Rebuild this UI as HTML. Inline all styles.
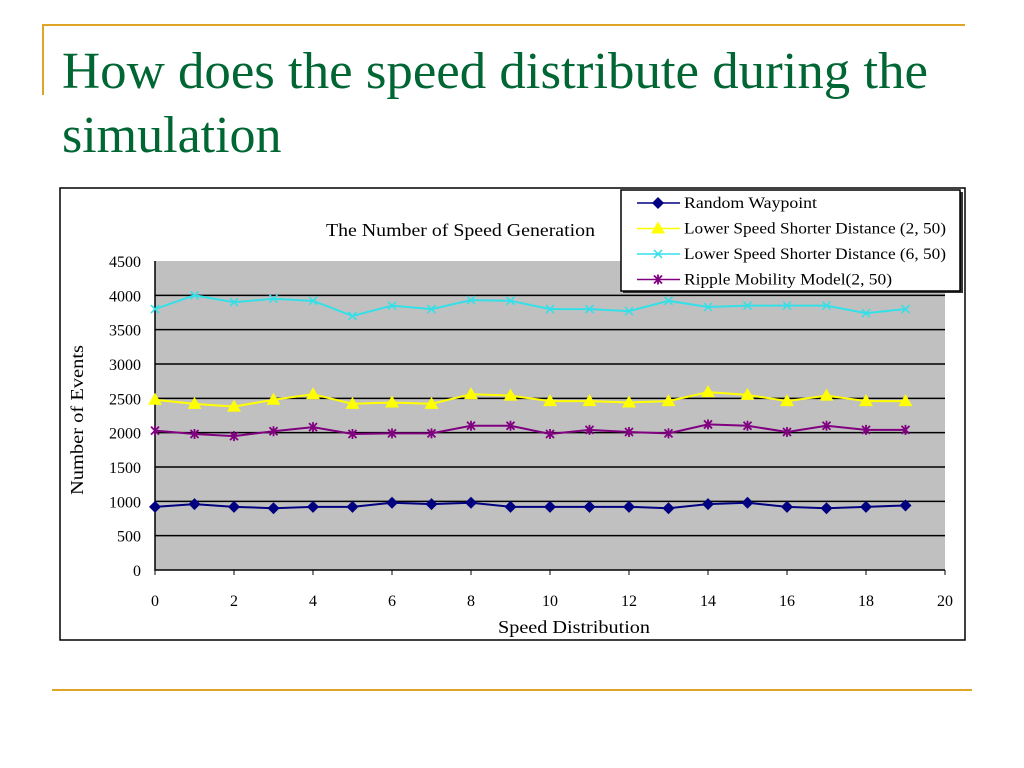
<!DOCTYPE html>
<html><head><meta charset="utf-8"><style>
body{margin:0;background:#fff;width:1024px;height:768px;overflow:hidden}
svg{display:block}
text{font-family:"Liberation Serif",serif}
</style></head><body>
<svg id="s" width="1024" height="768">
<line x1="42" y1="25" x2="965" y2="25" stroke="#e0a526" stroke-width="2"/>
<line x1="43" y1="25" x2="43" y2="95" stroke="#e0a526" stroke-width="2"/>
<line x1="52" y1="690" x2="972" y2="690" stroke="#e0a526" stroke-width="2"/>
<text x="62" y="88" font-size="52" fill="#006633" textLength="866" lengthAdjust="spacingAndGlyphs">How does the speed distribute during the</text>
<text x="62" y="152" font-size="52" fill="#006633">simulation</text>
<rect x="60" y="188" width="905" height="452" fill="#fff" stroke="#000" stroke-width="1.5"/>
<text x="326" y="236" font-size="18" textLength="269" lengthAdjust="spacingAndGlyphs">The Number of Speed Generation</text>
<rect x="155" y="261" width="790" height="309" fill="#c0c0c0"/>
<g id="grid"></g><g id="series"></g>
<text x="498" y="633" font-size="18" textLength="152" lengthAdjust="spacingAndGlyphs">Speed Distribution</text>
<text transform="translate(83,495) rotate(-90)" font-size="18" textLength="150" lengthAdjust="spacingAndGlyphs">Number of Events</text>
<rect x="623" y="192" width="340" height="101" fill="#333"/>
<rect x="621" y="190" width="339" height="101" fill="#fff" stroke="#000" stroke-width="1.5"/>
<g id="legend"></g>
</svg>
<script>
const categories=[0,1,2,3,4,5,6,7,8,9,10,11,12,13,14,15,16,17,18,19];
const xTicks=[0,2,4,6,8,10,12,14,16,18,20];
const yTicks=[0,500,1000,1500,2000,2500,3000,3500,4000,4500];
const randomWaypoint=[920,960,920,900,920,920,980,960,980,920,920,920,920,900,960,980,920,900,920,940];
const lssd250=[2480,2420,2380,2480,2560,2420,2440,2420,2560,2540,2460,2460,2440,2460,2590,2550,2460,2540,2460,2460];
const lssd650=[3800,4000,3900,3950,3920,3700,3850,3800,3930,3920,3800,3800,3770,3920,3830,3850,3850,3850,3740,3800];
const ripple=[2030,1980,1950,2020,2080,1980,1990,1990,2100,2100,1980,2040,2010,1990,2120,2100,2010,2100,2040,2040];
const seriesNames=["Random Waypoint","Lower Speed Shorter Distance (2, 50)","Lower Speed Shorter Distance (6, 50)","Ripple Mobility Model(2, 50)"];
const legendLens=[133,262,262,208];
const NS="http://www.w3.org/2000/svg";
const X=v=>155+v*39.5, Y=v=>570-v*309/4500;
function mk(t,a,p){const e=document.createElementNS(NS,t);for(const k in a)e.setAttribute(k,a[k]);p.appendChild(e);return e;}
const grid=document.getElementById('grid');
yTicks.forEach(v=>{
  if(v>0&&v<4500){const l=mk('line',{x1:155,x2:945,y1:Y(v),y2:Y(v),stroke:'#000','stroke-width':1.5},grid);
  
  }
  const t=mk('text',{x:141,y:Y(v)+6,'font-size':16,'text-anchor':'end'},grid);t.textContent=v;
  
  
});
xTicks.forEach(v=>{
  const t=mk('text',{x:X(v),y:606,'font-size':16,'text-anchor':'middle'},grid);t.textContent=v;
  
  
  const k=mk('line',{x1:X(v),x2:X(v),y1:570,y2:575,stroke:'#000'},grid);
  
  
});
const ax=mk('path',{d:'M155 261V570H945',fill:'none',stroke:'#000','stroke-width':1.5},grid);


function marker(type,x,y,c,g){
  if(type==='d') return mk('path',{d:`M${x} ${y-6}L${x+6} ${y}L${x} ${y+6}L${x-6} ${y}Z`,fill:c},g);
  if(type==='t') return mk('path',{d:`M${x} ${y-7}L${x+7} ${y+5}L${x-7} ${y+5}Z`,fill:c},g);
  if(type==='x') return mk('path',{d:`M${x-4} ${y-4}L${x+4} ${y+4}M${x-4} ${y+4}L${x+4} ${y-4}`,stroke:c,'stroke-width':1.5},g);
  return mk('path',{d:`M${x-4} ${y-4}L${x+4} ${y+4}M${x-4} ${y+4}L${x+4} ${y-4}M${x} ${y-5}L${x} ${y+5}`,stroke:c,'stroke-width':1.8},g);
}
const defs=[[randomWaypoint,'#000080','d'],[lssd250,'#ffff00','t'],[lssd650,'#33e0e8','x'],[ripple,'#800080','s']];
const sg=document.getElementById('series'),lg=document.getElementById('legend');
defs.forEach(([data,c,m],i)=>{
  const g=mk('g',{},sg);
  
  
  mk('polyline',{points:data.map((v,j)=>X(categories[j])+','+Y(v)).join(' '),fill:'none',stroke:c,'stroke-width':2},g);
  data.forEach((v,j)=>{const p=marker(m,X(categories[j]),Y(v),c,g);
    
    });
  const ly=203+i*25.5;
  const e=mk('g',{},lg);
  
  
  mk('line',{x1:637,x2:680,y1:ly,y2:ly,stroke:c,'stroke-width':1.5},e);
  marker(m,658,ly,c,e);
  const t=mk('text',{x:684,y:ly+5,'font-size':15.5,textLength:legendLens[i],lengthAdjust:'spacingAndGlyphs'},e);t.textContent=seriesNames[i];
});
</script>
</body></html>
